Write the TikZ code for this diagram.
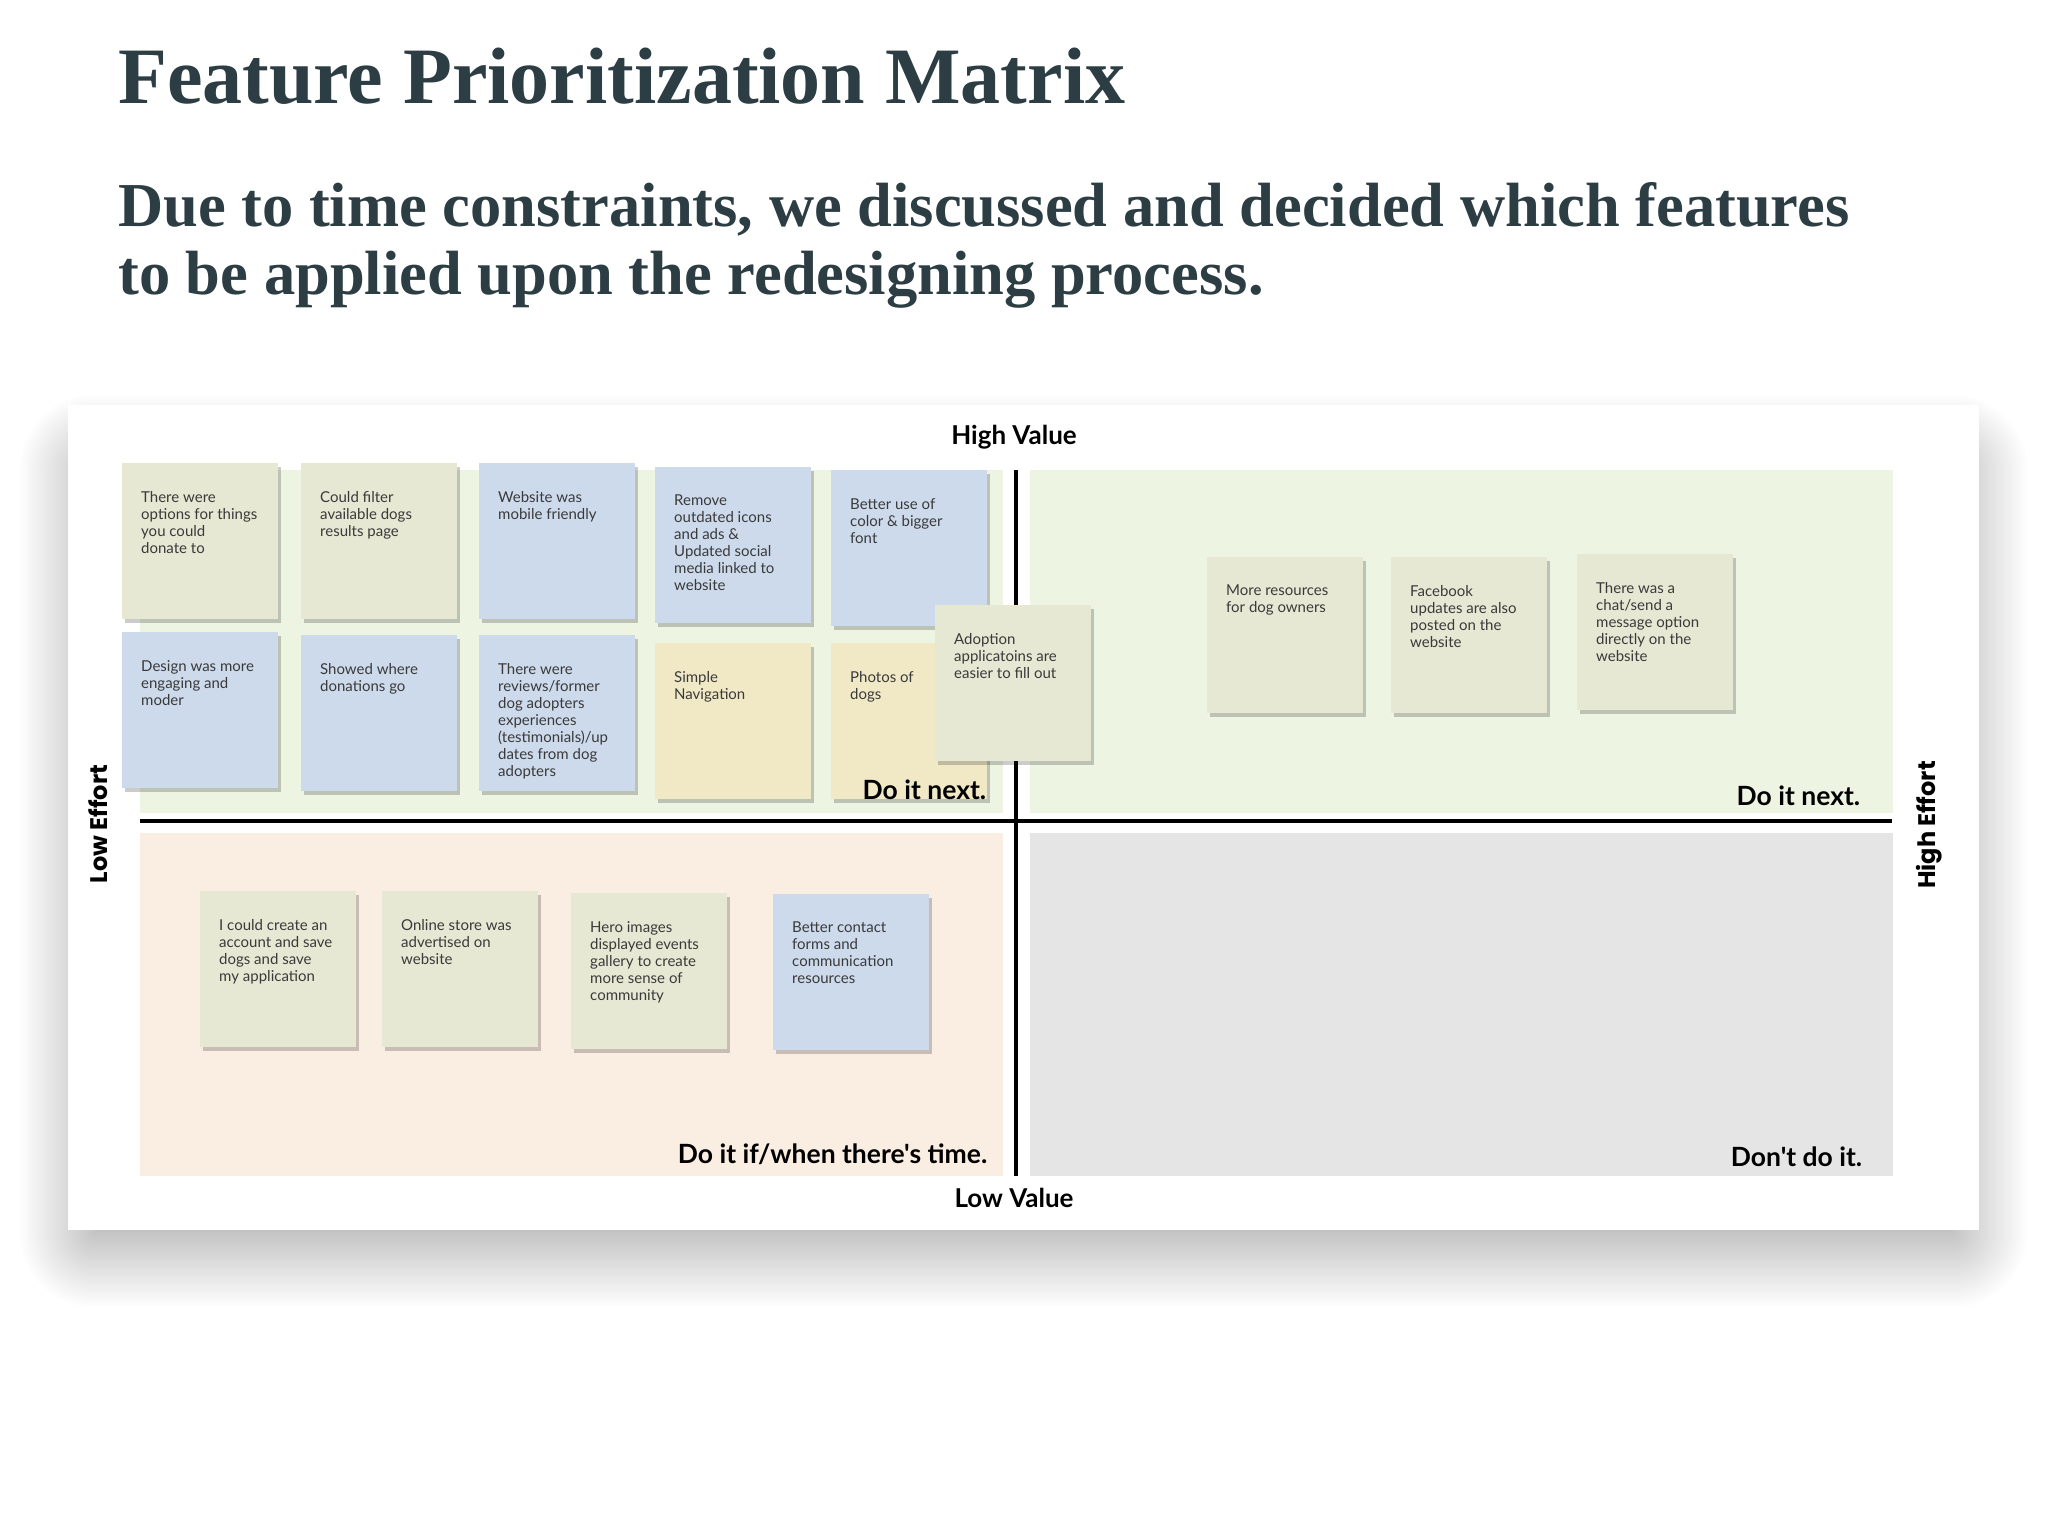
\documentclass[tikz,border=0pt]{standalone}
\usepackage{fontspec}
\setmainfont{Liberation Serif}
\newfontfamily\notefont{Lato}
\newfontfamily\effortfont{Poppins}
\usepackage{tikz}
\usetikzlibrary{calc}
\usetikzlibrary{shadows}
\usepackage{xcolor}
\definecolor{myslate}{HTML}{2C3E43}
\definecolor{mykhaki}{HTML}{E6E8D3}
\definecolor{mysky}{HTML}{CDDAEC}
\definecolor{mysand}{HTML}{F1E9C6}
\definecolor{mygreen}{HTML}{EDF4E2}
\definecolor{mypeach}{HTML}{FAEDE1}
\definecolor{mygrey}{HTML}{E5E5E5}
\definecolor{mytext}{HTML}{3A3A3A}
\tikzstyle{quadrant}=[anchor=north west,inner sep=0,minimum width=863pt,minimum height=343pt]
\tikzstyle{sticky}=[anchor=north west,inner sep=0,minimum width=156pt,minimum height=156pt,drop shadow={shadow xshift=3pt,shadow yshift=-4pt,fill=black,opacity=0.2}]
\tikzstyle{stickytext}=[anchor=north west,inner sep=0,align=left,text=mytext,font=\notefont\fontsize{15}{17}\selectfont]
\tikzstyle{quadlabel}=[anchor=base east,inner sep=0,font=\notefont\bfseries\fontsize{26.5}{30}\selectfont]
\tikzstyle{valuelabel}=[anchor=base,inner sep=0,font=\notefont\bfseries\fontsize{26}{30}\selectfont]
\tikzstyle{effortlabel}=[rotate=90,inner sep=0,font=\effortfont\bfseries\fontsize{24}{28}\selectfont]
% one sticky note: name, x, y, colour, text
\newcommand{\sticky}[5]{%
  \node[sticky,fill=#4] (#1) at (#2,#3) {};
  \node[stickytext] (#1txt) at ([xshift=19pt,yshift=-28pt]#1.north west) {#5};
}

\begin{document}
\begin{tikzpicture}[x=1pt,y=-1pt]
    \useasboundingbox (0,0) rectangle (2048,1536);

    % heading
    \node[anchor=base west,inner sep=0,text=myslate,font=\bfseries\fontsize{80}{96}\selectfont] (title) at (118,104) {Feature Prioritization Matrix};
    \node[anchor=base west,inner sep=0,text=myslate,font=\bfseries\fontsize{62.5}{68}\selectfont] (subone) at (118,226) {Due to time constraints, we discussed and decided which features};
    \node[anchor=base west,inner sep=0,text=myslate,font=\bfseries\fontsize{62.5}{68}\selectfont] (subtwo) at (118,294) {to be applied upon the redesigning process.};

    % card with soft shadow
    \foreach \i [evaluate=\i as \r using \i*2.6] in {0,...,29}
        \fill[black,opacity=0.006,rounded corners=\r pt] (95-\r,470-\r) rectangle (1952+\r,1232+\r);
    \fill[white] (68,405) rectangle (1979,1230);

    % quadrants
    \node[quadrant,fill=mygreen] (tl) at (140,470) {};
    \node[quadrant,fill=mygreen] (tr) at (1030,470) {};
    \node[quadrant,fill=mypeach] (bl) at (140,833) {};
    \node[quadrant,fill=mygrey] (br) at (1030,833) {};

    % axes
    \coordinate (vtop) at (1016,470);
    \coordinate (vbot) at (1016,1176);
    \coordinate (hleft) at (140,821);
    \coordinate (hright) at (1892,821);
    \draw[line width=3.5pt] (vtop)--(vbot);
    \draw[line width=4pt] (hleft)--(hright);

    \node[valuelabel] (highvalue) at (1014,444) {High Value};
    \node[valuelabel] (lowvalue) at (1014,1207) {Low Value};
    \node[effortlabel] (loweffort) at (98,824) {Low Effort};
    \node[effortlabel] (higheffort) at (1929,825) {High Effort};

    % top left
    \sticky{donate}{122}{463}{mykhaki}{There were\\options for things\\you could\\donate to}
    \sticky{filter}{301}{463}{mykhaki}{Could filter\\available dogs\\results page}
    \sticky{mobile}{479}{463}{mysky}{Website was\\mobile friendly}
    \sticky{icons}{655}{467}{mysky}{Remove\\outdated icons\\and ads \&\\Updated social\\media linked to\\website}
    \sticky{colour}{831}{470}{mysky}{Better use of\\color \& bigger\\font}
    \sticky{design}{122}{632}{mysky}{Design was more\\engaging and\\moder}
    \sticky{donations}{301}{635}{mysky}{Showed where\\donations go}
    \sticky{reviews}{479}{635}{mysky}{There were\\reviews/former\\dog adopters\\experiences\\(testimonials)/up\\dates from dog\\adopters}
    \sticky{navigation}{655}{643}{mysand}{Simple\\Navigation}
    \sticky{photos}{831}{643}{mysand}{Photos of\\dogs}
    \sticky{adoption}{935}{605}{mykhaki}{Adoption\\applicatoins are\\easier to fill out}

    % top right
    \sticky{resources}{1207}{557}{mykhaki}{More resources\\for dog owners}
    \sticky{facebook}{1391}{557}{mykhaki}{Facebook\\updates are also\\posted on the\\website}
    \sticky{chat}{1577}{554}{mykhaki}{There was a\\chat/send a\\message option\\directly on the\\website}

    % bottom left
    \sticky{account}{200}{891}{mykhaki}{I could create an\\account and save\\dogs and save\\my application}
    \sticky{store}{382}{891}{mykhaki}{Online store was\\advertised on\\website}
    \sticky{hero}{571}{893}{mykhaki}{Hero images\\displayed events\\gallery to create\\more sense of\\community}
    \sticky{contact}{773}{894}{mysky}{Better contact\\forms and\\communication\\resources}

    % quadrant captions
    \node[quadlabel] (tlcap) at ([xshift=-17pt,yshift=14pt]tl.south east) {Do it next.};
    \node[quadlabel] (trcap) at ([xshift=-33pt,yshift=8pt]tr.south east) {Do it next.};
    \node[quadlabel] (blcap) at ([xshift=-16pt,yshift=13pt]bl.south east) {Do it if/when there's time.};
    \node[quadlabel] (brcap) at ([xshift=-31pt,yshift=10pt]br.south east) {Don't do it.};

\end{tikzpicture}
\end{document}
